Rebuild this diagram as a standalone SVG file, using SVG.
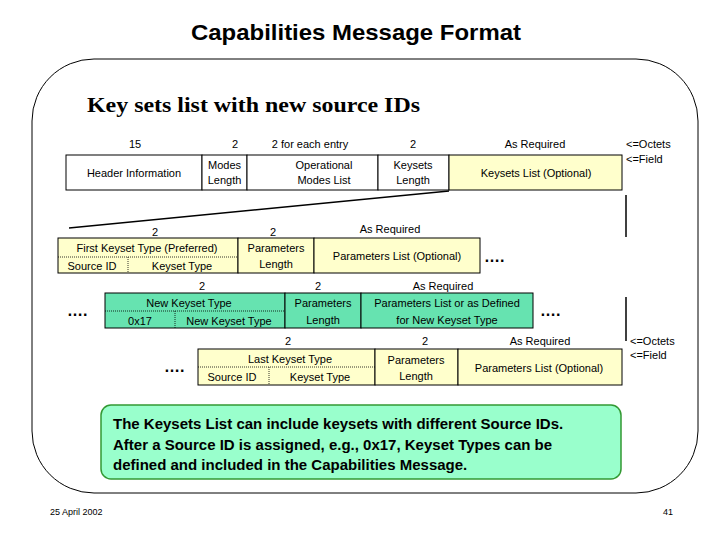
<svg xmlns="http://www.w3.org/2000/svg" width="720" height="540" viewBox="0 0 720 540">
<style>
text{font-family:"Liberation Sans",Arial,sans-serif;font-size:11px;fill:#000}
.c{text-anchor:middle}
.w{fill:#fff;stroke:#000;stroke-width:1}
.y{fill:#ffffcc;stroke:#000;stroke-width:1}
.g{fill:#66e3b0;stroke:#000;stroke-width:1}
.d{stroke:#000;stroke-width:0.8;stroke-dasharray:1,1;fill:none}
.dots{font-size:16px;font-weight:bold}
.n{font-size:15px;font-weight:bold}
</style>
<rect width="720" height="540" fill="#fff"/>
<text x="191" y="40" style="font-size:22px;font-weight:bold" textLength="330" lengthAdjust="spacingAndGlyphs">Capabilities Message Format</text>
<rect x="32" y="59" width="666" height="434" rx="62" fill="none" stroke="#000"/>
<text x="87" y="112" style="font-family:'Liberation Serif',serif;font-size:22px;font-weight:bold" textLength="333" lengthAdjust="spacingAndGlyphs">Key sets list with new source IDs</text>
<g id="labels">
<text x="135" y="148" class="c">15</text><text x="235" y="148" class="c">2</text>
<text x="310" y="148" class="c">2 for each entry</text><text x="413" y="148" class="c">2</text>
<text x="535" y="148" class="c">As Required</text>
<text x="626" y="148">&lt;=Octets</text><text x="626" y="163">&lt;=Field</text>
<text x="155" y="236" class="c">2</text><text x="273" y="236" class="c">2</text><text x="390" y="233" class="c">As Required</text>
<text x="202" y="290" class="c">2</text><text x="318" y="290" class="c">2</text><text x="443" y="290" class="c">As Required</text>
<text x="288" y="345" class="c">2</text><text x="425" y="345" class="c">2</text><text x="540" y="345" class="c">As Required</text>
<text x="630" y="345">&lt;=Octets</text><text x="630" y="359">&lt;=Field</text>
<text x="484" y="262" class="dots">….</text><text x="67" y="316" class="dots">….</text>
<text x="540" y="316" class="dots">….</text><text x="164" y="372" class="dots">….</text>
</g>
<g id="row1">
<rect class="w" x="66" y="155" width="136" height="35"/><text x="134" y="177" class="c">Header Information</text>
<rect class="w" x="202" y="155" width="45" height="35"/><text x="224.5" y="169" class="c">Modes</text><text x="224.5" y="184" class="c">Length</text>
<rect class="w" x="247" y="155" width="131" height="35"/><text x="324" y="169" class="c">Operational</text><text x="324" y="184" class="c">Modes List</text>
<rect class="w" x="378" y="155" width="71" height="35"/><text x="413" y="169" class="c">Keysets</text><text x="413" y="184" class="c">Length</text>
<rect class="y" x="449" y="155" width="173" height="35"/><text x="536" y="177" class="c">Keysets List (Optional)</text>
</g>
<g id="connectors" stroke="#000" fill="none">
<line x1="449" y1="191" x2="69" y2="228" stroke-width="1.5"/>
<line x1="626" y1="195" x2="626" y2="237" stroke-width="1.5"/>
<line x1="626" y1="297" x2="626" y2="341" stroke-width="1.5"/>
</g>
<g id="row2">
<rect class="y" x="58" y="238" width="180" height="35"/>
<line class="d" x1="58" y1="257" x2="238" y2="257"/><line class="d" x1="128" y1="257" x2="128" y2="273"/>
<text x="147" y="252" class="c">First Keyset Type (Preferred)</text><text x="92" y="270" class="c">Source ID</text><text x="182" y="270" class="c">Keyset Type</text>
<rect class="y" x="238" y="238" width="76" height="35"/><text x="276" y="252" class="c">Parameters</text><text x="276" y="268" class="c">Length</text>
<rect class="y" x="314" y="238" width="166" height="35"/><text x="397" y="260" class="c">Parameters List (Optional)</text>
</g>
<g id="row3">
<rect class="g" x="105" y="293" width="180" height="35"/>
<line class="d" x1="105" y1="311" x2="285" y2="311"/><line class="d" x1="175" y1="311" x2="175" y2="328"/>
<text x="189" y="307" class="c">New Keyset Type</text><text x="140" y="325" class="c">0x17</text><text x="229" y="325" class="c">New Keyset Type</text>
<rect class="g" x="285" y="293" width="76" height="35"/><text x="323" y="307" class="c">Parameters</text><text x="323" y="324" class="c">Length</text>
<rect class="g" x="361" y="293" width="172" height="35"/><text x="447" y="307" class="c">Parameters List or as Defined</text><text x="447" y="324" class="c">for New Keyset Type</text>
</g>
<g id="row4">
<rect class="y" x="198" y="349" width="177" height="36"/>
<line class="d" x1="198" y1="367" x2="375" y2="367"/><line class="d" x1="269" y1="367" x2="269" y2="385"/>
<text x="290" y="363" class="c">Last Keyset Type</text><text x="232" y="381" class="c">Source ID</text><text x="320" y="381" class="c">Keyset Type</text>
<rect class="y" x="375" y="349" width="83" height="36"/><text x="416" y="364" class="c">Parameters</text><text x="416" y="380" class="c">Length</text>
<rect class="y" x="458" y="349" width="164" height="36"/><text x="539" y="372" class="c">Parameters List (Optional)</text>
</g>
<g id="note">
<rect x="101" y="405" width="520" height="74" rx="10" fill="#99ffcc" stroke="#339933" stroke-width="1.5"/>
<text x="113" y="429" class="n">The Keysets List can include keysets with different Source IDs.</text>
<text x="113" y="450" class="n">After a Source ID is assigned, e.g., 0x17, Keyset Types can be</text>
<text x="113" y="470" class="n">defined and included in the Capabilities Message.</text>
</g>
<text x="50" y="515" style="font-size:9px">25 April 2002</text>
<text x="663" y="515" style="font-size:9px">41</text>
</svg>
